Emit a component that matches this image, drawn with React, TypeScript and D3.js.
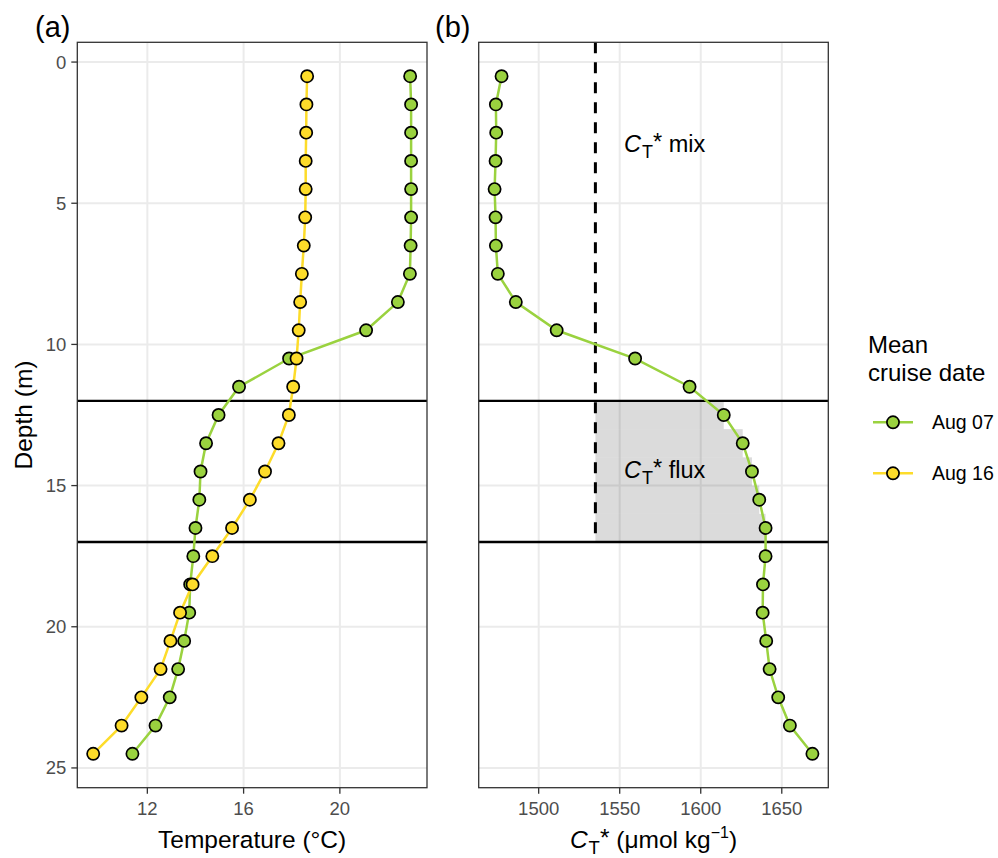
import React from "react";
import * as d3 from "d3";

const depths = [0.5,1.5,2.5,3.5,4.5,5.5,6.5,7.5,8.5,9.5,10.5,11.5,12.5,13.5,14.5,15.5,16.5,17.5,18.5,19.5,20.5,21.5,22.5,23.5,24.5];
const tempAug07 = [22.92,22.96,22.96,22.96,22.96,22.96,22.94,22.91,22.41,21.09,17.89,15.81,14.96,14.44,14.21,14.16,14.0,13.91,13.78,13.74,13.53,13.28,12.93,12.34,11.38];
const tempAug16 = [18.64,18.61,18.6,18.58,18.58,18.56,18.5,18.42,18.35,18.29,18.2,18.06,17.88,17.45,16.89,16.26,15.52,14.7,13.88,13.36,12.96,12.55,11.75,10.93,9.75];
const ctAug07 = [1477.1,1473.6,1473.8,1473.4,1472.8,1473.4,1473.6,1474.8,1485.9,1511.1,1559.5,1593.1,1614.2,1625.9,1631.6,1636.1,1640.0,1640.0,1638.4,1638.2,1640.4,1642.5,1647.8,1655.0,1668.9];
const seriesNames = ["Aug 07", "Aug 16"];
const seriesColors = ["#9ad23f", "#fddc2a"];
const tempTicks = [12, 16, 20];
const ctTicks = [1500, 1550, 1600, 1650];
const depthTicks = [0, 5, 10, 15, 20, 25];
const layerDepths = [12, 17];
const ctMix = 1535;

const FONT = "'Liberation Sans', Arial, Helvetica, sans-serif";

function expand(ext: number[]) {
  const r = ext[1] - ext[0];
  return [ext[0] - r * 0.05, ext[1] + r * 0.05];
}

export default function App() {
  const top = 42.3, bottom = 787.7;
  const aL = 77.3, aR = 427;
  const bL = 478.7, bR = 828.3;

  const y = d3.scaleLinear().domain(expand(d3.extent(depths) as number[])).range([top, bottom]);
  const xA = d3.scaleLinear().domain(expand(d3.extent([...tempAug07, ...tempAug16]) as number[])).range([aL, aR]);
  const xB = d3.scaleLinear().domain(expand(d3.extent(ctAug07) as number[])).range([bL, bR]);

  const lineA07 = d3.line<number>().x((v) => xA(v)).y((_, i) => y(depths[i]));
  const lineA16 = d3.line<number>().x((v) => xA(v)).y((_, i) => y(depths[i]));
  const lineB = d3.line<number>().x((v) => xB(v)).y((_, i) => y(depths[i]));

  const grid = "#ebebeb";
  const tickCol = "#4d4d4d";

  const shade = depths
    .map((d, i) => ({ d, v: ctAug07[i] }))
    .filter((o) => o.d > layerDepths[0] && o.d < layerDepths[1]);

  const panelGrid = (x: d3.ScaleLinear<number, number>, ticks: number[], L: number, R: number) => (
    <g>
      {depthTicks.map((t) => (
        <line key={"gy" + t} x1={L} x2={R} y1={y(t)} y2={y(t)} stroke={grid} strokeWidth={2} />
      ))}
      {ticks.map((t) => (
        <line key={"gx" + t} x1={x(t)} x2={x(t)} y1={top} y2={bottom} stroke={grid} strokeWidth={2} />
      ))}
    </g>
  );

  const points = (x: d3.ScaleLinear<number, number>, vals: number[], color: string, key: string) =>
    vals.map((v, i) => (
      <circle key={key + i} cx={x(v)} cy={y(depths[i])} r={6.1} fill={color} stroke="#000" strokeWidth={1.7} />
    ));

  const xTicks = (x: d3.ScaleLinear<number, number>, ticks: number[]) =>
    ticks.map((t) => (
      <g key={"xt" + t}>
        <line x1={x(t)} x2={x(t)} y1={bottom} y2={bottom + 6} stroke="#333" strokeWidth={1.3} />
        <text x={x(t)} y={815} textAnchor="middle" fontSize={18.5} fill={tickCol} fontFamily={FONT}>{t}</text>
      </g>
    ));

  const ctLabel = (x: number, yy: number, rest: string) => (
    <text x={x} y={yy} fontSize={23.5} fontFamily={FONT} fill="#000">
      <tspan fontStyle="italic">C</tspan>
      <tspan dx={1} dy={6} fontSize={18}>T</tspan>
      <tspan dy={-8}>*</tspan>
      <tspan dy={2}>{"\u00A0" + rest}</tspan>
    </text>
  );

  return (
    <div style={{ position: "absolute", left: 0, top: 0 }}>
      <svg width={998} height={858} style={{ display: "block", background: "#fff" }}>
        <rect x={0} y={0} width={998} height={858} fill="#fff" />
        {/* Panel a */}
        {panelGrid(xA, tempTicks, aL, aR)}
        {layerDepths.map((d) => (
          <line key={"ha" + d} x1={aL} x2={aR} y1={y(d)} y2={y(d)} stroke="#000" strokeWidth={2.4} />
        ))}
        <path d={lineA07(tempAug07) || ""} fill="none" stroke={seriesColors[0]} strokeWidth={2.5} />
        <path d={lineA16(tempAug16) || ""} fill="none" stroke={seriesColors[1]} strokeWidth={2.5} />
        {points(xA, tempAug07, seriesColors[0], "a07")}
        {points(xA, tempAug16, seriesColors[1], "a16")}
        <rect x={aL} y={top} width={aR - aL} height={bottom - top} fill="none" stroke="#333" strokeWidth={1.3} />
        {depthTicks.map((t) => (
          <g key={"yt" + t}>
            <line x1={aL - 6} x2={aL} y1={y(t)} y2={y(t)} stroke="#333" strokeWidth={1.3} />
            <text x={aL - 11} y={y(t) + 6.5} textAnchor="end" fontSize={18.5} fill={tickCol} fontFamily={FONT}>{t}</text>
          </g>
        ))}
        {xTicks(xA, tempTicks)}

        {/* Panel b */}
        {panelGrid(xB, ctTicks, bL, bR)}
        {shade.map((o) => (
          <rect key={"sh" + o.d} x={xB(ctMix)} y={y(o.d - 0.5)} width={xB(o.v) - xB(ctMix)} height={y(o.d + 0.5) - y(o.d - 0.5)} fill="#000" fillOpacity={0.14} />
        ))}
        {layerDepths.map((d) => (
          <line key={"hb" + d} x1={bL} x2={bR} y1={y(d)} y2={y(d)} stroke="#000" strokeWidth={2.4} />
        ))}
        <line x1={xB(ctMix)} x2={xB(ctMix)} y1={top} y2={y(layerDepths[1])} stroke="#000" strokeWidth={3} strokeDasharray="11,9" />
        <path d={lineB(ctAug07) || ""} fill="none" stroke={seriesColors[0]} strokeWidth={2.5} />
        {points(xB, ctAug07, seriesColors[0], "b07")}
        <rect x={bL} y={top} width={bR - bL} height={bottom - top} fill="none" stroke="#333" strokeWidth={1.3} />
        {xTicks(xB, ctTicks)}

        {ctLabel(624, 152, "mix")}
        {ctLabel(624, 478, "flux")}

        {/* Axis titles */}
        <text x={(aL + aR) / 2} y={848} textAnchor="middle" fontSize={24.5} fontFamily={FONT} fill="#000">Temperature (°C)</text>
        <text x={(bL + bR) / 2} y={848} textAnchor="middle" fontSize={24.5} fontFamily={FONT} fill="#000">
          <tspan fontStyle="italic">C</tspan>
          <tspan dx={1} dy={6} fontSize={18.5}>T</tspan>
          <tspan dy={-8}>*</tspan>
          <tspan dy={2}>{"\u00A0(μmol kg"}</tspan>
          <tspan dy={-10} fontSize={16}>−1</tspan>
          <tspan dy={10}>)</tspan>
        </text>
        <text transform={`translate(32, ${(top + bottom) / 2}) rotate(-90)`} textAnchor="middle" fontSize={24.5} fontFamily={FONT} fill="#000">Depth (m)</text>

        {/* Panel labels */}
        <text x={35} y={37} fontSize={29} fontFamily={FONT} fill="#000">(a)</text>
        <text x={435} y={37} fontSize={29} fontFamily={FONT} fill="#000">(b)</text>

        {/* Legend */}
        <text x={868} y={353} fontSize={24} fontFamily={FONT} fill="#000">Mean</text>
        <text x={868} y={381} fontSize={24} fontFamily={FONT} fill="#000">cruise date</text>
        {seriesNames.map((n, i) => {
          const ly = 422.3 + i * 51;
          return (
            <g key={"lg" + n}>
              <line x1={873} x2={913} y1={ly} y2={ly} stroke={seriesColors[i]} strokeWidth={2.5} />
              <circle cx={893} cy={ly} r={6.1} fill={seriesColors[i]} stroke="#000" strokeWidth={1.7} />
              <text x={932} y={ly + 7} fontSize={19.5} fontFamily={FONT} fill="#000">{n}</text>
            </g>
          );
        })}
      </svg>
    </div>
  );
}
